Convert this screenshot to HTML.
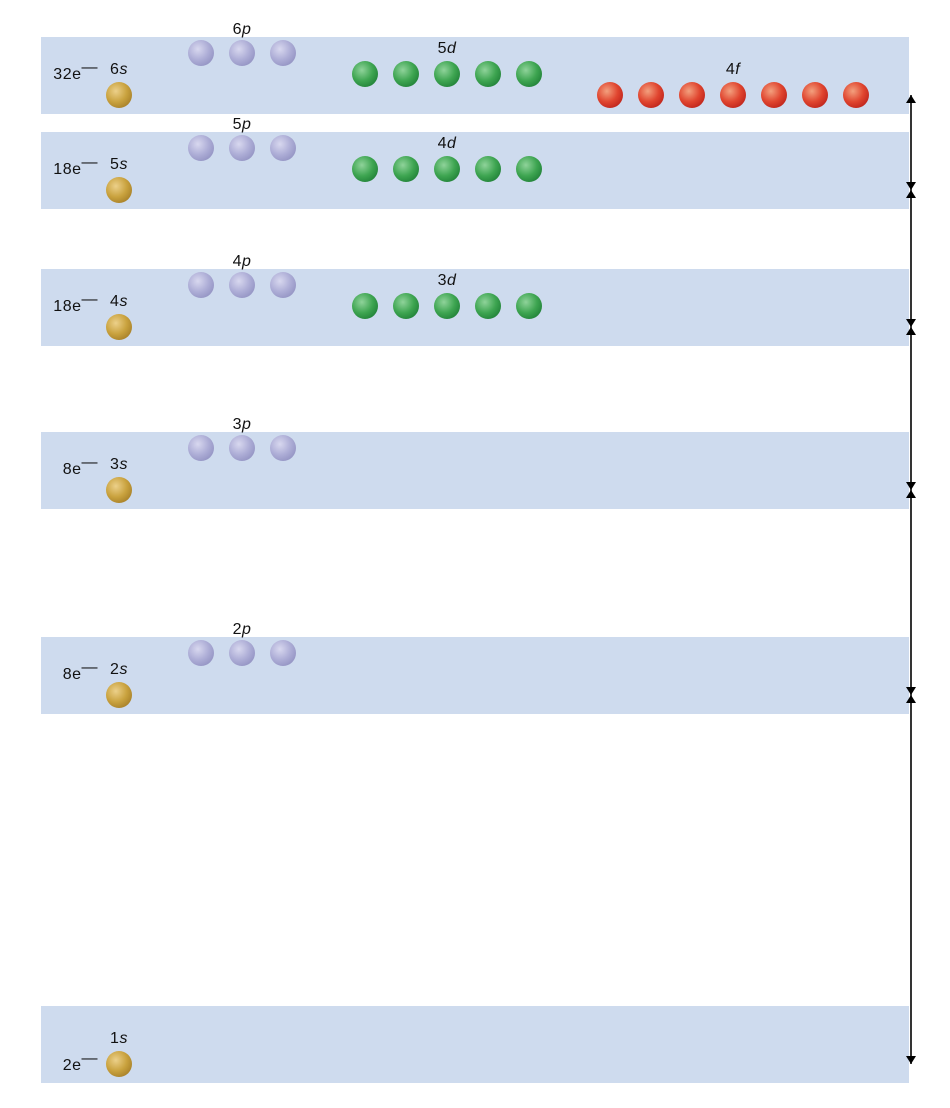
<!DOCTYPE html>
<html><head><meta charset="utf-8">
<style>
html,body{margin:0;padding:0;background:#fff;width:950px;height:1108px;overflow:hidden}
svg text{font-family:"Liberation Sans",sans-serif;font-size:16px;fill:#111;letter-spacing:0.5px}
</style></head>
<body>
<svg id="chart" width="950" height="1108" viewBox="0 0 950 1108" xmlns="http://www.w3.org/2000/svg">
<defs>
<radialGradient id="gs" cx="0.38" cy="0.35" r="0.7"><stop offset="0" stop-color="#ecd08a"/><stop offset="0.6" stop-color="#c9a23e"/><stop offset="1" stop-color="#a9822a"/></radialGradient>
<radialGradient id="gp" cx="0.38" cy="0.35" r="0.7"><stop offset="0" stop-color="#d8d8ef"/><stop offset="0.6" stop-color="#adadd6"/><stop offset="1" stop-color="#9595c4"/></radialGradient>
<radialGradient id="gd" cx="0.38" cy="0.35" r="0.7"><stop offset="0" stop-color="#8fd39a"/><stop offset="0.6" stop-color="#3ea551"/><stop offset="1" stop-color="#23843a"/></radialGradient>
<radialGradient id="gf" cx="0.38" cy="0.35" r="0.7"><stop offset="0" stop-color="#f3a07e"/><stop offset="0.6" stop-color="#e0452f"/><stop offset="1" stop-color="#c0261d"/></radialGradient>
<marker id="ah" viewBox="0 0 8 12" refX="8" refY="6" markerWidth="8" markerHeight="12" orient="auto-start-reverse" markerUnits="userSpaceOnUse"><path d="M0,1 L8,6 L0,11 Z" fill="#000"/></marker>
</defs>
</svg>
<script>
// shells: principal number, top of band, electron capacity
const shellN = [6,5,4,3,2,1];
const shellTop = [37,132,269,432,637,1006];
const shellCap = ["32","18","18","8","8","2"];
// subshell counts per shell
const pCount = [3,3,3,3,3,0];
const dCount = [5,5,5,0,0,0];
const fCount = [7,0,0,0,0,0];
const dLabel = ["5d","4d","3d","","",""];
const fLabel = ["4f","","","","",""];

const svg = document.getElementById('chart');
const NS = 'http://www.w3.org/2000/svg';
function mk(tag, attrs){const e=document.createElementNS(NS,tag);for(const k in attrs)e.setAttribute(k,attrs[k]);svg.appendChild(e);return e;}
function lab(x,y,num,letter,anchor){
  const t=mk('text',{x:x,y:y,'text-anchor':anchor||'middle'});
  t.appendChild(document.createTextNode(num));
  const ts=document.createElementNS(NS,'tspan');ts.setAttribute('font-style','italic');ts.textContent=letter;t.appendChild(ts);
  return t;
}
const R=13;
shellN.forEach((n,i)=>{
  const top=shellTop[i];
  const band=mk('rect',{x:41,y:top,width:868,height:77,fill:'#cedbee'});
  
  
  const sl=lab(119,top+37,String(n),'s');
  
  
  const sb=mk('circle',{cx:119,cy:top+58,r:R,fill:'url(#gs)'});
  
  
  const ey = n===1 ? top+64 : top+42;
  const et=mk('text',{x:98,y:ey,'text-anchor':'end'});
  et.appendChild(document.createTextNode(shellCap[i]+'e'));
  const sup=document.createElementNS(NS,'tspan');
  sup.setAttribute('dy','-7');sup.textContent='\u2014';
  et.appendChild(sup);
  
  
  if(pCount[i]){
    const pl=lab(242,top-3,String(n),'p');
    
    
    for(let k=0;k<pCount[i];k++){
      const c=mk('circle',{cx:201+41*k,cy:top+16,r:R,fill:'url(#gp)'});
      
      
    }
  }
  if(dCount[i]){
    const dl=lab(447,top+16,dLabel[i].slice(0,-1),'d');
    
    
    for(let k=0;k<dCount[i];k++){
      const c=mk('circle',{cx:365+41*k,cy:top+37,r:R,fill:'url(#gd)'});
      
      
    }
  }
  if(fCount[i]){
    const fl=lab(733,top+37,fLabel[i].slice(0,-1),'f');
    
    
    for(let k=0;k<fCount[i];k++){
      const c=mk('circle',{cx:610+41*k,cy:top+58,r:R,fill:'url(#gf)'});
      
      
    }
  }
});
for(let i=0;i<shellTop.length-1;i++){
  const y1=shellTop[i]+58, y2=shellTop[i+1]+58;
  const a=mk('line',{x1:911,y1:y1,x2:911,y2:y2,stroke:'#000','stroke-width':1.6,'marker-start':'url(#ah)','marker-end':'url(#ah)'});
  
  
}
</script>
</body></html>
